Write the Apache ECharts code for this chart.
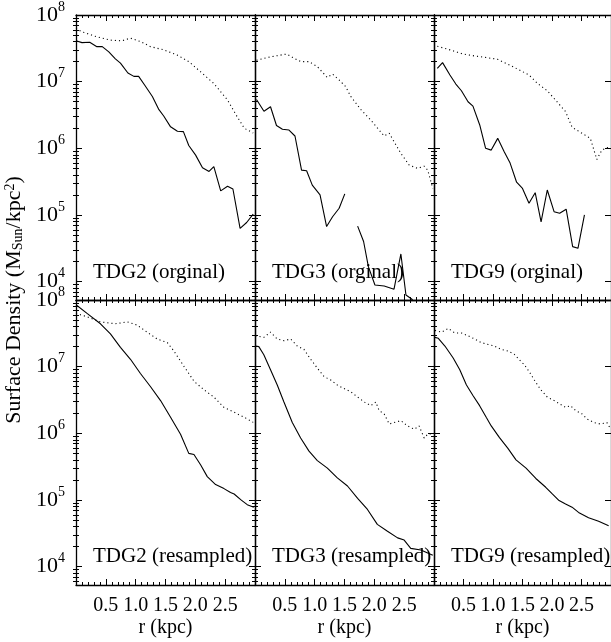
<!DOCTYPE html>
<html><head><meta charset="utf-8">
<script src="https://cdn.jsdelivr.net/npm/echarts@6/dist/echarts.min.js"></script>
<style>html,body{margin:0;padding:0;background:#fff}#c{width:611px;height:642px}</style>
</head><body><div id="c"></div>
<script>
// ---- data (r in kpc, surface density in M_sun/kpc^2) ----
const panelTitles = ['TDG2 (orginal)', 'TDG3 (orginal)', 'TDG9 (orginal)',
                     'TDG2 (resampled)', 'TDG3 (resampled)', 'TDG9 (resampled)'];
const rTickLabels = [0.5, 1.0, 1.5, 2.0, 2.5];
const densityDecades = [1e4, 1e5, 1e6, 1e7, 1e8];
const yTitle = 'Surface Density (M{sub|Sun}/kpc{sup|2})';
const xTitle = 'r (kpc)';

const tdg2OrigSolid = [[0.0,4.1e7],[0.10,3.85e7],[0.23,3.9e7],[0.35,3.35e7],[0.44,3.35e7],[0.55,2.8e7],[0.66,2.2e7],[0.745,1.9e7],[0.87,1.35e7],[0.97,1.2e7],[1.05,1.2e7],[1.15,8.9e6],[1.28,6.0e6],[1.39,3.8e6],[1.47,3.05e6],[1.585,2.1e6],[1.70,1.8e6],[1.80,1.78e6],[1.89,1.1e6],[2.005,7.9e5],[2.12,5.1e5],[2.23,4.5e5],[2.31,5.3e5],[2.425,2.3e5],[2.54,2.7e5],[2.63,2.45e5],[2.75,6.3e4],[2.86,7.7e4],[2.97,1.03e5]];
const tdg2OrigDotted = [[0.0,6.3e7],[0.10,5.6e7],[0.35,4.7e7],[0.58,4.2e7],[0.77,4.1e7],[0.91,4.5e7],[1.08,4.0e7],[1.25,3.35e7],[1.47,3.0e7],[1.70,2.5e7],[1.89,2.0e7],[2.09,1.4e7],[2.31,9.4e6],[2.54,5.3e6],[2.68,3.2e6],[2.82,2.0e6],[2.97,1.7e6]];
const tdg3OrigSolid = [[0.025,5.4e6],[0.15,3.6e6],[0.26,4.2e6],[0.36,2.2e6],[0.46,1.93e6],[0.57,1.88e6],[0.67,1.53e6],[0.78,4.7e5],[0.865,4.6e5],[0.96,2.8e5],[1.09,2.0e5],[1.20,6.7e4],[1.30,9.4e4],[1.41,1.26e5],[1.505,2.07e5],[1.6,'-'],[1.72,6.8e4],[1.82,4.0e4],[1.90,1.68e4],[2.01,8.9e3],[2.165,8.6e3],[2.33,7.7e3],[2.445,2.6e4],[2.53,6.3e3],[2.625,5.5e3],[2.73,4.0e3]];
const tdg3OrigDotted = [[0.025,2.1e7],[0.205,2.3e7],[0.37,2.45e7],[0.53,2.6e7],[0.65,2.25e7],[0.765,2.0e7],[0.905,2.0e7],[1.045,1.68e7],[1.21,1.16e7],[1.30,1.3e7],[1.41,1.06e7],[1.52,8.4e6],[1.605,6.0e6],[1.775,3.8e6],[1.94,2.66e6],[2.08,1.88e6],[2.165,1.53e6],[2.25,1.68e6],[2.33,1.26e6],[2.445,8.4e5],[2.585,5.6e5],[2.725,5.0e5],[2.835,5.4e5],[2.895,4.7e5],[2.98,2.5e5]];
const tdg9OrigSolid = [[0.056,1.58e7],[0.145,1.93e7],[0.27,1.26e7],[0.37,9.2e6],[0.465,7.3e6],[0.577,5.0e6],[0.66,4.3e6],[0.775,2.24e6],[0.875,1.0e6],[0.97,9.4e5],[1.08,1.41e6],[1.19,8.9e5],[1.29,6.0e5],[1.40,3.1e5],[1.50,2.5e5],[1.61,1.5e5],[1.715,2.16e5],[1.815,7.9e4],[1.92,2.37e5],[2.035,1.12e5],[2.13,1.06e5],[2.24,1.22e5],[2.35,3.35e4],[2.44,3.16e4],[2.55,1.0e5]];
const tdg9OrigDotted = [[0.056,3.4e7],[0.27,3.0e7],[0.49,2.6e7],[0.69,2.43e7],[0.885,2.3e7],[1.08,2.16e7],[1.28,1.78e7],[1.445,1.5e7],[1.61,1.26e7],[1.755,9.4e6],[1.92,7.3e6],[2.06,5.3e6],[2.23,3.55e6],[2.34,2.07e6],[2.51,1.68e6],[2.65,1.41e6],[2.76,6.8e5],[2.845,9.4e5],[2.98,1.06e6]];
const tdg2ResSolid = [[0.0,8.5e7],[0.185,6.3e7],[0.41,4.4e7],[0.577,3.1e7],[0.745,1.95e7],[0.913,1.29e7],[1.08,7.9e6],[1.25,5.0e6],[1.417,3.1e6],[1.585,1.74e6],[1.752,9.7e5],[1.89,5.0e5],[1.977,4.8e5],[2.09,3.35e5],[2.20,2.24e5],[2.34,1.7e5],[2.48,1.48e5],[2.59,1.29e5],[2.65,1.23e5],[2.76,1.01e5],[2.87,8.5e4],[2.98,7.8e4]];
const tdg2ResDotted = [[0.0,6.3e7],[0.185,5.6e7],[0.41,4.7e7],[0.66,4.4e7],[0.857,4.7e7],[1.025,4.2e7],[1.19,3.3e7],[1.36,2.6e7],[1.53,2.3e7],[1.64,1.72e7],[1.81,1.01e7],[1.98,6.0e6],[2.145,4.5e6],[2.31,3.5e6],[2.48,2.45e6],[2.65,2.07e6],[2.82,1.74e6],[2.97,1.46e6]];
const tdg3ResSolid = [[0.008,2.04e7],[0.064,2.0e7],[0.148,1.51e7],[0.26,9.0e6],[0.373,5.3e6],[0.485,2.95e6],[0.625,1.45e6],[0.765,8.5e5],[0.905,5.4e5],[1.045,3.9e5],[1.213,3.0e5],[1.38,2.14e5],[1.55,1.62e5],[1.72,1.06e5],[1.885,7.2e4],[2.05,4.3e4],[2.22,3.4e4],[2.39,2.7e4],[2.50,2.5e4],[2.61,1.88e4],[2.78,1.78e4],[2.98,1.48e4]];
const tdg3ResDotted = [[0.008,2.9e7],[0.148,2.75e7],[0.26,3.3e7],[0.373,2.6e7],[0.485,2.45e7],[0.597,2.6e7],[0.709,2.04e7],[0.82,1.82e7],[0.933,1.29e7],[1.045,9.5e6],[1.157,7.1e6],[1.27,6.3e6],[1.38,5.3e6],[1.49,4.7e6],[1.605,4.2e6],[1.72,3.5e6],[1.83,2.95e6],[1.94,2.6e6],[2.025,2.95e6],[2.08,2.2e6],[2.165,1.95e6],[2.25,1.38e6],[2.33,1.45e6],[2.445,1.55e6],[2.555,1.29e6],[2.67,1.15e6],[2.75,1.29e6],[2.835,8.5e5],[2.895,9.7e5],[2.98,9.9e5]];
const tdg9ResSolid = [[0.017,2.75e7],[0.073,2.66e7],[0.185,2.04e7],[0.325,1.35e7],[0.437,9.0e6],[0.55,5.3e6],[0.66,3.7e6],[0.773,2.6e6],[0.885,1.74e6],[0.97,1.29e6],[1.11,8.6e5],[1.25,6.0e5],[1.39,4.0e5],[1.56,3.0e5],[1.726,2.1e5],[1.894,1.55e5],[2.005,1.23e5],[2.12,9.8e4],[2.23,8.7e4],[2.34,7.8e4],[2.45,6.5e4],[2.62,5.4e4],[2.79,4.8e4],[2.96,4.1e4]];
const tdg9ResDotted = [[0.017,3.5e7],[0.129,3.3e7],[0.241,3.75e7],[0.353,3.2e7],[0.465,3.2e7],[0.577,2.9e7],[0.689,2.6e7],[0.801,2.3e7],[0.913,2.16e7],[1.025,2.04e7],[1.137,1.82e7],[1.25,1.72e7],[1.36,1.53e7],[1.445,1.27e7],[1.53,1.07e7],[1.61,8.5e6],[1.70,6.3e6],[1.81,4.5e6],[1.92,3.5e6],[2.035,3.1e6],[2.12,2.8e6],[2.23,2.45e6],[2.315,2.6e6],[2.40,2.2e6],[2.51,1.95e6],[2.595,1.64e6],[2.71,1.45e6],[2.82,1.38e6],[2.93,1.45e6],[2.98,1.22e6]];

const panelSolid = [tdg2OrigSolid, tdg3OrigSolid, tdg9OrigSolid, tdg2ResSolid, tdg3ResSolid, tdg9ResSolid];
const panelDotted = [tdg2OrigDotted, tdg3OrigDotted, tdg9OrigDotted, tdg2ResDotted, tdg3ResDotted, tdg9ResDotted];

// ---- layout ----
const FONT = '"Liberation Serif", "Times New Roman", serif';
const colLeft = [76, 255, 434], colWidth = 179;
const rowTop = [15, 300], rowHeight = 285;
const yMin = 5300, yMax = 1e8, xMin = 0, xMax = 3;

const minorY = [];
for (let e = 3; e <= 7; e++) for (let k = 2; k <= 9; k++) { const v = k * Math.pow(10, e); if (v >= yMin && v <= yMax) minorY.push(v); }

const grid = [], xAxis = [], yAxis = [], series = [], graphic = [];
const axisLine = { show: true, onZero: false, lineStyle: { color: '#000', width: 1.3 } };

for (let p = 0; p < 6; p++) {
  const row = Math.floor(p / 3), col = p % 3;
  grid.push({ left: colLeft[col], top: rowTop[row], width: colWidth, height: rowHeight, containLabel: false });
  const bottomRow = row === 1;
  const xi = xAxis.length;
  ['bottom', 'top'].forEach((pos, j) => {
    xAxis.push({
      type: 'value', gridIndex: p, position: pos, min: xMin, max: xMax, interval: 0.5,
      axisLine, splitLine: { show: false },
      axisTick: { show: true, inside: true, length: 6, lineStyle: { color: '#000', width: 1 } },
      minorTick: { show: true, splitNumber: 5, length: 3, lineStyle: { color: '#000', width: 1 } },
      axisLabel: { show: bottomRow && j === 0, customValues: rTickLabels, formatter: v => v.toFixed(1),
                   margin: 11, color: '#000', fontFamily: FONT, fontSize: 20 },
      name: (bottomRow && j === 0) ? xTitle : '', nameLocation: 'middle', nameGap: 33,
      nameTextStyle: { color: '#000', fontFamily: FONT, fontSize: 20 }
    });
  });
  const yi = yAxis.length;
  ['left', 'right'].forEach((pos, j) => {
    yAxis.push({
      type: 'log', gridIndex: p, position: pos, min: yMin, max: yMax,
      axisLine, splitLine: { show: false }, minorTick: { show: false },
      axisTick: { show: true, inside: true, length: 6, customValues: densityDecades, lineStyle: { color: '#000', width: 1 } },
      axisLabel: { show: col === 0 && j === 0, customValues: densityDecades, margin: 11,
        formatter: v => '{b|10}{s|' + Math.round(Math.log10(v)) + '}',
        rich: { b: { fontFamily: FONT, fontSize: 22, color: '#000', lineHeight: 30, verticalAlign: 'middle' },
                s: { fontFamily: FONT, fontSize: 14, color: '#000', height: 14, verticalAlign: 'top' } } }
    });
    yAxis.push({
      type: 'log', gridIndex: p, position: pos, min: yMin, max: yMax,
      axisLine: { show: false }, splitLine: { show: false }, axisLabel: { show: false },
      axisTick: { show: true, inside: true, length: 3, customValues: minorY, lineStyle: { color: '#000', width: 1 } }
    });
  });
  series.push({ type: 'line', xAxisIndex: xi, yAxisIndex: yi, data: panelSolid[p], showSymbol: false, symbol: 'none',
    clip: true, connectNulls: false, lineStyle: { color: '#000', width: 1.1, type: 'solid' }, z: 3, silent: true });
  series.push({ type: 'line', xAxisIndex: xi, yAxisIndex: yi, data: panelDotted[p], showSymbol: false, symbol: 'none',
    clip: true, lineStyle: { color: '#000', width: 1.1, type: [1.1, 3] }, z: 3, silent: true });
  graphic.push({ type: 'text', x: colLeft[col] + 17, y: rowTop[row] + (row === 0 ? 257 : 256), z: 1,
    style: { text: panelTitles[p], fill: '#000', font: '21px ' + FONT, align: 'left', verticalAlign: 'middle' } });
}

graphic.push({ type: 'text', x: 14, y: 300, rotation: Math.PI / 2, z: 1,
  style: { text: yTitle, fill: '#000', font: '22px ' + FONT, align: 'center', verticalAlign: 'middle',
    rich: { sub: { fontFamily: FONT, fontSize: 14, fill: '#000', verticalAlign: 'bottom' },
            sup: { fontFamily: FONT, fontSize: 14, fill: '#000', verticalAlign: 'top' } } } });

const chart = echarts.init(document.getElementById('c'), null, { renderer: 'canvas' });
chart.setOption({ animation: false, backgroundColor: '#fff', grid, xAxis, yAxis, series, graphic });
</script></body></html>
